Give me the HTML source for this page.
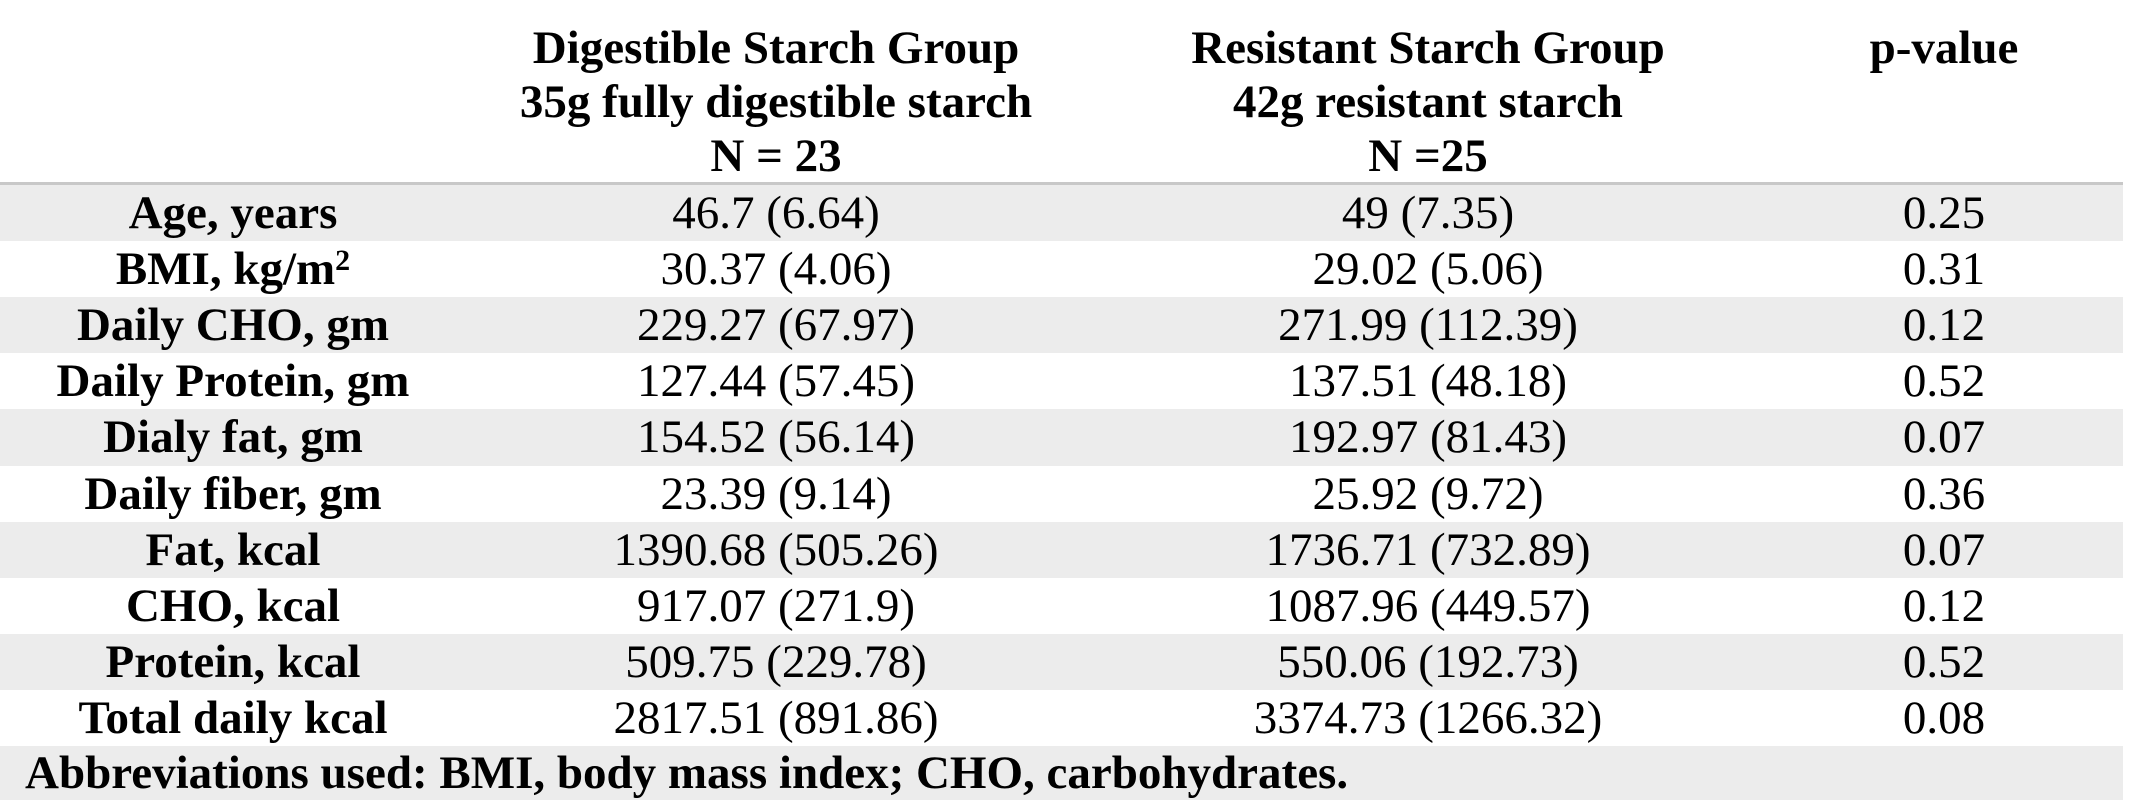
<!DOCTYPE html>
<html><head><meta charset="utf-8"><style>
html,body{margin:0;padding:0;background:#fff;}
#t{position:relative;width:2146px;height:810px;overflow:hidden;font-family:"Liberation Serif","Times New Roman",serif;color:#000;}
.r{position:absolute;left:0;width:2123px;height:56.2px;}
.g{background:#ececec;}
.c{position:absolute;width:700px;margin-left:-350px;text-align:center;font-size:47px;line-height:56px;white-space:nowrap;}
.b{font-weight:bold;}
.h{position:absolute;width:800px;margin-left:-400px;text-align:center;font-size:47px;font-weight:bold;line-height:54px;white-space:nowrap;}
</style></head><body>
<div id="t">
<div class="h" style="left:776px;top:21px">Digestible Starch Group<br>35g fully digestible starch<br>N = 23</div>
<div class="h" style="left:1428px;top:21px">Resistant Starch Group<br>42g resistant starch<br>N =25</div>
<div class="h" style="left:1944px;top:21px">p-value</div>
<div style="position:absolute;left:0;top:182px;width:2123px;height:3px;background:#c8c8c8"></div>
<div id="rows"></div>
<div class="r g" style="top:746px;height:54px"><div class="b" style="position:absolute;left:25px;font-size:47px;line-height:54px;white-space:nowrap">Abbreviations used: BMI, body mass index; CHO, carbohydrates.</div></div>
</div>
<script>
const labels=["Age, years","BMI, kg/m²","Daily CHO, gm","Daily Protein, gm","Dialy fat, gm","Daily fiber, gm","Fat, kcal","CHO, kcal","Protein, kcal","Total daily kcal"];
const digestible=["46.7 (6.64)","30.37 (4.06)","229.27 (67.97)","127.44 (57.45)","154.52 (56.14)","23.39 (9.14)","1390.68 (505.26)","917.07 (271.9)","509.75 (229.78)","2817.51 (891.86)"];
const resistant=["49 (7.35)","29.02 (5.06)","271.99 (112.39)","137.51 (48.18)","192.97 (81.43)","25.92 (9.72)","1736.71 (732.89)","1087.96 (449.57)","550.06 (192.73)","3374.73 (1266.32)"];
const pvalues=["0.25","0.31","0.12","0.52","0.07","0.36","0.07","0.12","0.52","0.08"];
const host=document.getElementById('rows');
labels.forEach((lab,i)=>{
  const row=document.createElement('div');
  row.className='r'+(i%2===0?' g':'');
  row.style.top=(185+i*56.1)+'px';
  
  
  const cells=[[lab,233,true,'row-label'],[digestible[i],776,false,'digestible-value'],[resistant[i],1428,false,'resistant-value'],[pvalues[i],1944,false,'p-value']];
  cells.forEach(c=>{
    const d=document.createElement('div');
    d.className='c'+(c[2]?' b':'');
    d.style.left=c[1]+'px';
    if(lab.indexOf('²')>=0&&c[2]){d.innerHTML='BMI, kg/m<span style="font-size:30px;vertical-align:14px;line-height:0">2</span>';}else{d.textContent=c[0];}
    
    
    row.appendChild(d);
  });
  host.appendChild(row);
});
</script>
</body></html>
